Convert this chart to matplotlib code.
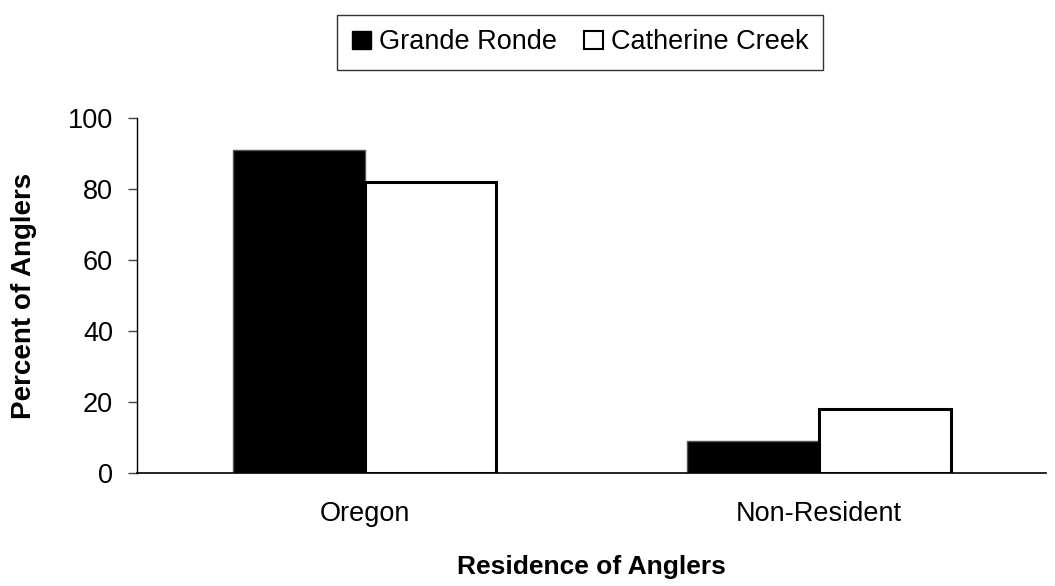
import numpy as np
import matplotlib.pyplot as plt
from matplotlib.patches import Patch

plt.rcParams['font.family'] = ['Liberation Sans', 'DejaVu Sans']

# Datos
categorias = ['Oregon', 'Non-Resident']
grande_ronde = [91, 9]
catherine_creek = [82, 18]
series = ['Grande Ronde', 'Catherine Creek']

fig = plt.figure(figsize=(10.55, 5.86), dpi=100)
ax = fig.add_axes([0.1303, 0.1928, 0.8612, 0.605])

x = np.arange(len(categorias))
ancho = 0.29
ax.bar(x - ancho / 2, grande_ronde, ancho, color='black', edgecolor='#555555', linewidth=1)
ax.bar(x + ancho / 2, catherine_creek, ancho, color='white', edgecolor='black', linewidth=2.2)

ax.set_xlim(-0.5, 1.5)
ax.set_ylim(0, 100)
ax.set_yticks([0, 20, 40, 60, 80, 100])
ax.set_xticks(x)
ax.set_xticklabels(categorias)
ax.tick_params(axis='x', length=0, pad=20, labelsize=19.5)
ax.tick_params(axis='y', length=6.5, width=1, pad=11, labelsize=19.5, color='#444444')

for lado in ['top', 'right']:
    ax.spines[lado].set_visible(False)
ax.spines['left'].set_linewidth(1)
ax.spines['bottom'].set_linewidth(1.2)

ax.set_ylabel('Percent of Anglers', fontsize=20, fontweight='bold', labelpad=22)
ax.set_xlabel('Residence of Anglers', fontsize=19, fontweight='bold', labelpad=20)

handles = [Patch(facecolor='black', edgecolor='black'),
           Patch(facecolor='white', edgecolor='black', linewidth=1.5)]
leg = fig.legend(handles, series, loc='center', bbox_to_anchor=(0.5498, 0.9275), ncol=2,
                 fontsize=19.5, frameon=True, fancybox=False, edgecolor='black',
                 handlelength=0.7, handleheight=0.65, handletextpad=0.3, columnspacing=1.0,
                 borderpad=0.55, borderaxespad=0)
leg.get_frame().set_linewidth(1)

fig.savefig('out.png', dpi=100)
